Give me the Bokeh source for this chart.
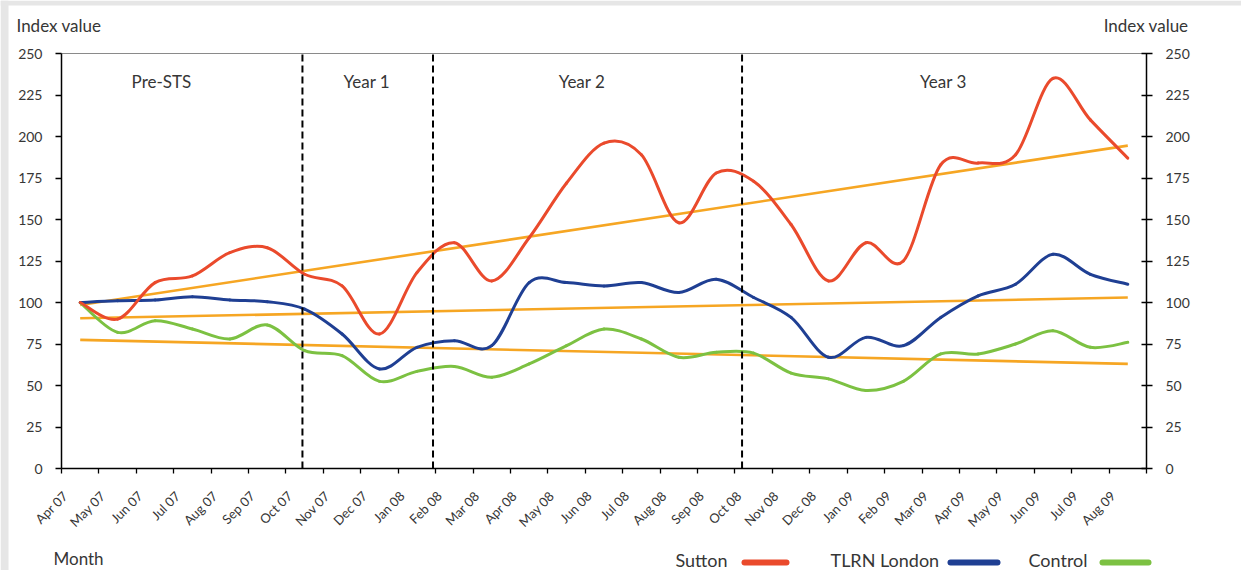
import numpy as np
from bokeh.plotting import figure
from bokeh.models import (LinearAxis, FixedTicker, Range1d, BoxAnnotation,
                          CustomJSTickFormatter)
from bokeh.embed import file_html
from bokeh.resources import INLINE
from bokeh.core.properties import value

# ---------------- data ----------------
months = ["Apr 07", "May 07", "Jun 07", "Jul 07", "Aug 07", "Sep 07", "Oct 07",
          "Nov 07", "Dec 07", "Jan 08", "Feb 08", "Mar 08", "Apr 08", "May 08",
          "Jun 08", "Jul 08", "Aug 08", "Sep 08", "Oct 08", "Nov 08", "Dec 08",
          "Jan 09", "Feb 09", "Mar 09", "Apr 09", "May 09", "Jun 09", "Jul 09",
          "Aug 09"]

sutton = [100, 90, 112, 116, 130, 133, 117, 110, 81, 118, 136, 113, 139, 172,
          196, 189, 148, 178, 173, 147, 113, 136, 125, 183, 184, 189, 235, 210, 187]
tlrn = [100, 101, 101.5, 103.5, 101.5, 100.5, 96, 81, 60, 73, 77, 74, 112, 112,
        110, 112, 106, 114, 103, 91, 67, 79, 74, 91, 104, 111, 129, 117, 111]
control = [100, 82, 89, 84, 78, 86.5, 71, 68, 52.5, 58.5, 61.5, 55, 63, 74, 84,
           78, 67, 70, 69.5, 57.5, 54, 47, 52.5, 69, 69, 75, 83, 73, 76]

series_names = ["Sutton", "TLRN London", "Control"]
trend_start = [98.5, 90.5, 77.5]
trend_end = [194.5, 103, 63]

period_names = ["Pre-STS", "Year 1", "Year 2", "Year 3"]
period_bounds = [5.94, 9.43, 17.69]
period_label_x = [2.17, 7.66, 13.41, 23.07]

y_ticks = [0, 25, 50, 75, 100, 125, 150, 175, 200, 225, 250]
Y_MAX = 250

# ---------------- layout (pixels) ----------------
W, H = 1241, 570
CH_L, CH_R, CH_T, CH_B = 61, 1146, 53, 468      # chart box on the canvas
n = len(months)
PX = (CH_R - CH_L) / n
PY = (CH_B - CH_T) / Y_MAX


def px2x(px):
    return -0.5 + (px - CH_L) / PX


def py2y(py):
    return (CH_B - py) / PY


# ---------------- styles ----------------
FONT = "Lato"
TXT = "#363636"
colors = ["#EA4A2C", "#1F3F93", "#7CC142"]
trend_color = "#F6A623"
x = np.arange(n, dtype=float)


def smooth_bezier(xs, ys, t=1.0 / 6.0):
    xs = np.asarray(xs, float)
    ys = np.asarray(ys, float)
    m = len(xs)
    xp = np.concatenate([[xs[0]], xs, [xs[-1]]])
    yp = np.concatenate([[ys[0]], ys, [ys[-1]]])
    cx0 = xp[1:m] + (xp[2:m + 1] - xp[0:m - 1]) * t
    cy0 = yp[1:m] + (yp[2:m + 1] - yp[0:m - 1]) * t
    cx1 = xp[2:m + 1] - (xp[3:m + 2] - xp[1:m]) * t
    cy1 = yp[2:m + 1] - (yp[3:m + 2] - yp[1:m]) * t
    return dict(x0=xs[:-1], y0=ys[:-1], x1=xs[1:], y1=ys[1:],
                cx0=cx0, cy0=cy0, cx1=cx1, cy1=cy1)


p = figure(width=W, height=H, title=None,
           x_range=Range1d(px2x(0), px2x(W)), y_range=Range1d(py2y(H), py2y(0)),
           output_backend="svg", toolbar_location=None, min_border=0)
p.xgrid.visible = False
p.ygrid.visible = False
p.outline_line_color = None
p.background_fill_color = "white"
p.border_fill_color = "white"

# page frame bands (light grey)
p.add_layout(BoxAnnotation(right=px2x(8), fill_color="#e6e6e6", fill_alpha=1,
                           line_color=None, level="underlay"))
p.add_layout(BoxAnnotation(bottom=py2y(5), fill_color="#e6e6e6", fill_alpha=1,
                           line_color=None, level="underlay"))

# top edge of the chart box
p.line([-0.5, n - 0.5], [Y_MAX, Y_MAX], line_color="#8a8a8a", line_width=1)

# trend lines
for s, e in zip(trend_start, trend_end):
    p.line([x[0], x[-1]], [s, e], line_color=trend_color, line_width=2.6)

# smoothed series
for ys, c in zip([control, tlrn, sutton], [colors[2], colors[1], colors[0]]):
    p.bezier(**smooth_bezier(x, ys), line_color=c, line_width=3, line_cap="round")

# period separators
p.segment(x0=period_bounds, y0=[0] * len(period_bounds), x1=period_bounds,
          y1=[Y_MAX] * len(period_bounds), line_color="black", line_width=2,
          line_dash="7 4")

p.text(x=period_label_x, y=[233] * len(period_names), text=period_names,
       text_align="center", text_baseline="middle", text_font=value(FONT),
       text_font_size="17px", text_color=TXT)

# ---------------- axes ----------------
xa = p.xaxis[0]
xa.fixed_location = 0
xa.bounds = (-0.5, n - 0.5)
label_shift = -0.4
xa.ticker = FixedTicker(ticks=list(x + label_shift),
                        minor_ticks=list(np.arange(n + 1) - 0.5))
xa.formatter = CustomJSTickFormatter(args=dict(labels=months, sh=label_shift),
                                     code="return labels[Math.round(tick - sh)] || ''")
xa.major_label_orientation = np.pi / 4
xa.major_tick_line_color = None
xa.major_tick_out = 0
xa.major_tick_in = 0
xa.minor_tick_out = 5
xa.minor_tick_in = 0
xa.minor_tick_line_color = "black"
xa.minor_tick_line_width = 1.3
xa.axis_line_color = "black"
xa.axis_line_width = 1.5
xa.major_label_standoff = 20
xa.major_label_text_font = FONT
xa.major_label_text_font_size = "13px"
xa.major_label_text_color = TXT

ya = p.yaxis[0]
ya.fixed_location = -0.5
ya.bounds = (0, Y_MAX)
ya.ticker = FixedTicker(ticks=y_ticks, minor_ticks=[])
ya.major_tick_out = 6
ya.major_tick_in = 0
ya.major_tick_line_width = 1.3
ya.axis_line_width = 1.5
ya.axis_line_color = "black"
ya.major_label_standoff = 13
ya.major_label_text_font = FONT
ya.major_label_text_font_size = "14px"
ya.major_label_text_color = TXT

ra = LinearAxis(ticker=FixedTicker(ticks=y_ticks, minor_ticks=[]),
                fixed_location=n - 0.5, bounds=(0, Y_MAX))
ra.major_tick_out = 6
ra.major_tick_in = 5
ra.major_tick_line_width = 1.3
ra.axis_line_width = 1.5
ra.axis_line_color = "black"
ra.major_label_standoff = 13
ra.major_label_text_font = FONT
ra.major_label_text_font_size = "14px"
ra.major_label_text_color = TXT
p.add_layout(ra, "right")

# ---------------- axis titles ----------------
p.text(x=[px2x(16)], y=[py2y(25)], text=["Index value"], text_align="left",
       text_baseline="middle", text_font=value(FONT), text_font_size="17px",
       text_color=TXT)
p.text(x=[px2x(1188)], y=[py2y(25)], text=["Index value"], text_align="right",
       text_baseline="middle", text_font=value(FONT), text_font_size="17px",
       text_color=TXT)
p.text(x=[px2x(53)], y=[py2y(558)], text=["Month"], text_align="left",
       text_baseline="middle", text_font=value(FONT), text_font_size="17px",
       text_color=TXT)

# ---------------- legend (text, then swatch) ----------------
leg_text_px = [675, 830, 1028]
leg_sw_px = [(744, 786), (950, 997), (1102, 1148)]
leg_y = py2y(559)
p.text(x=[px2x(v) for v in leg_text_px], y=[leg_y] * 3, text=series_names,
       text_align="left", text_baseline="middle", text_font=value(FONT),
       text_font_size="18px", text_color=TXT)
p.segment(x0=[px2x(a) for a, b in leg_sw_px], y0=[py2y(562)] * 3,
          x1=[px2x(b) for a, b in leg_sw_px], y1=[py2y(562)] * 3,
          line_color=colors, line_width=6, line_cap="round")

open("out.html", "w").write(file_html(p, INLINE))
